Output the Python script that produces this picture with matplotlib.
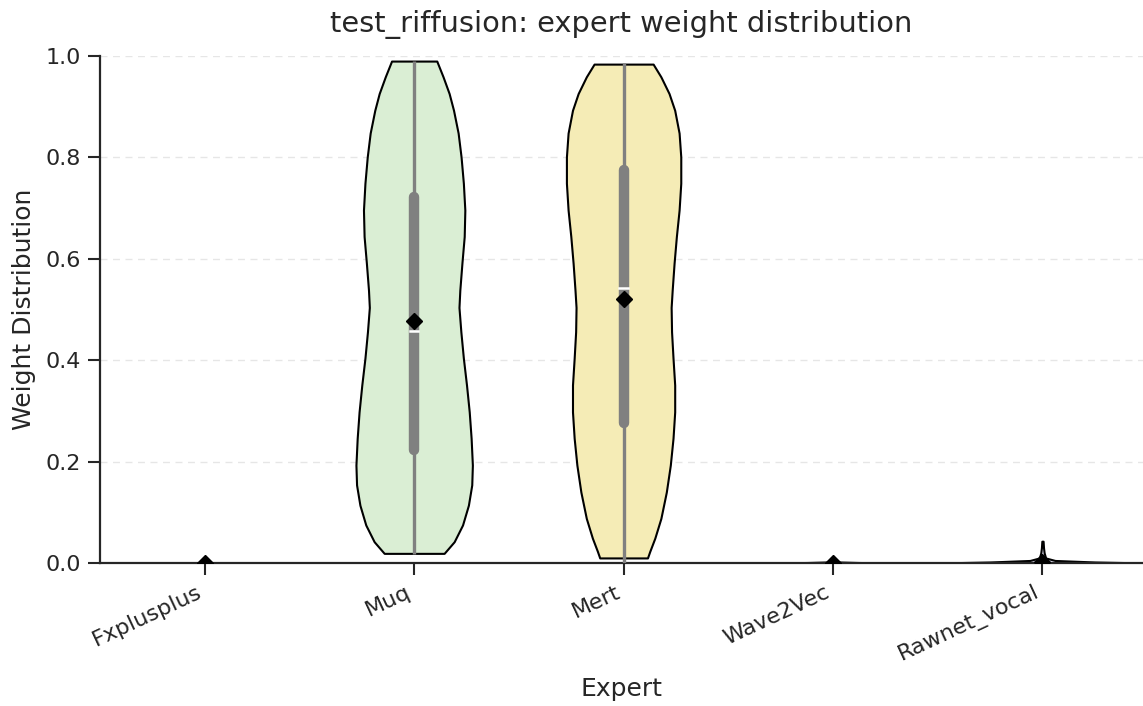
import matplotlib
matplotlib.use("Agg")
import matplotlib.pyplot as plt
import numpy as np

# 专家名称
experts = ["Fxplusplus", "Muq", "Mert", "Wave2Vec", "Rawnet_vocal"]

# 小提琴轮廓：高度 + 半宽
muq_levels = [0.019, 0.042, 0.075, 0.114, 0.154, 0.193, 0.246, 0.298, 0.351, 0.404, 0.456,
              0.504, 0.538, 0.591, 0.644, 0.696, 0.749, 0.801, 0.848, 0.893, 0.926, 0.959, 0.990]
muq_half = [0.143, 0.191, 0.231, 0.259, 0.275, 0.278, 0.272, 0.263, 0.250, 0.235, 0.223,
            0.214, 0.218, 0.228, 0.239, 0.242, 0.235, 0.224, 0.210, 0.188, 0.167, 0.138, 0.108]

mert_levels = [0.010, 0.023, 0.049, 0.088, 0.140, 0.193, 0.246, 0.298, 0.351, 0.404, 0.456,
               0.504, 0.538, 0.591, 0.644, 0.696, 0.749, 0.801, 0.848, 0.893, 0.926, 0.959, 0.984]
mert_half = [0.114, 0.125, 0.149, 0.178, 0.204, 0.223, 0.236, 0.244, 0.244, 0.236, 0.229,
             0.227, 0.232, 0.241, 0.252, 0.265, 0.273, 0.273, 0.265, 0.244, 0.217, 0.178, 0.141]

wave_levels = [0.0, 0.001, 0.002, 0.003]
wave_half = [0.28, 0.12, 0.03, 0.01]

rawnet_levels = [0.0, 0.002, 0.005, 0.010, 0.020, 0.030, 0.043]
rawnet_half = [0.50, 0.25, 0.06, 0.015, 0.008, 0.005, 0.003]

# 箱线：下须、Q1、中位数、Q3、上须、均值
whisker_lo = [0.0, 0.018, 0.0, 0.0, 0.0]
q1 = [0.0, 0.223, 0.276, 0.0, 0.0]
medians = [0.0, 0.457, 0.543, 0.0, 0.0]
q3 = [0.0, 0.722, 0.776, 0.0, 0.001]
whisker_hi = [0.0, 0.990, 0.986, 0.002, 0.003]
means = [0.0, 0.478, 0.520, 0.0, 0.001]

colors = ["#dbeedd", "#daeed4", "#f5ecb6", "#f3e0e8", "#e2e2f3"]


def make_stats(levels, half, idx):
    return {"coords": np.array(levels), "vals": np.array(half),
            "mean": means[idx], "median": medians[idx],
            "min": levels[0], "max": levels[-1]}


def plot_weights():
    plt.rcParams['font.family'] = 'DejaVu Sans'
    text_color = '#262626'

    fig = plt.figure(figsize=(11.43, 7.06), dpi=100)
    ax = fig.add_axes([100 / 1143, 1 - 563 / 706, 1043 / 1143, 507 / 706])

    # 背景网格
    for t in [0.2, 0.4, 0.6, 0.8, 1.0]:
        ax.axhline(t, color='#e6e6e6', lw=1.0, ls=(0, (5, 4)), zorder=0)

    profiles = [(1, muq_levels, muq_half), (2, mert_levels, mert_half),
                (3, wave_levels, wave_half), (4, rawnet_levels, rawnet_half)]
    for idx, lv, hw in profiles:
        parts = ax.violin([make_stats(lv, hw, idx)], positions=[idx],
                          widths=[2 * max(hw)], showmeans=False,
                          showextrema=False, showmedians=False)
        for body in parts['bodies']:
            body.set_facecolor(colors[idx])
            body.set_edgecolor('black')
            body.set_linewidth(1.5)
            body.set_alpha(1)
            body.set_zorder(2)

    # 内部箱线
    for i in range(len(experts)):
        ax.plot([i, i], [whisker_lo[i], whisker_hi[i]], color='#808080', lw=2.4,
                solid_capstyle='butt', zorder=3)
        if q3[i] - q1[i] > 0.01:
            ax.plot([i, i], [q1[i], q3[i]], color='#808080', lw=7.5,
                    solid_capstyle='round', zorder=3)
            ax.plot([i - 0.02, i + 0.02], [medians[i], medians[i]], color='white',
                    lw=1.8, zorder=4)
        ax.plot(i, means[i], marker='D', color='black', ms=8.5, ls='none', zorder=5)

    ax.set_xlim(-0.5, 4.48)
    ax.set_ylim(0, 1.0)
    ax.set_xticks(range(len(experts)))
    ax.set_xticklabels(experts, rotation=25, ha='right', fontsize=16, color=text_color)
    ax.set_yticks([0.0, 0.2, 0.4, 0.6, 0.8, 1.0])
    ax.set_yticklabels([f"{v:.1f}" for v in [0.0, 0.2, 0.4, 0.6, 0.8, 1.0]],
                       fontsize=16, color=text_color)
    ax.tick_params(axis='both', length=8.5, width=1.5, pad=5, color=text_color)

    ax.set_xlabel('Expert', fontsize=18, color=text_color, labelpad=8)
    ax.set_ylabel('Weight Distribution', fontsize=18, color=text_color, labelpad=7)
    ax.set_title('test_riffusion: expert weight distribution', fontsize=20.8,
                 color=text_color, pad=17.5)

    for side in ['top', 'right']:
        ax.spines[side].set_visible(False)
    for side in ['left', 'bottom']:
        ax.spines[side].set_linewidth(1.6)
        ax.spines[side].set_color(text_color)

    fig.savefig('out.png', dpi=100)


plot_weights()
